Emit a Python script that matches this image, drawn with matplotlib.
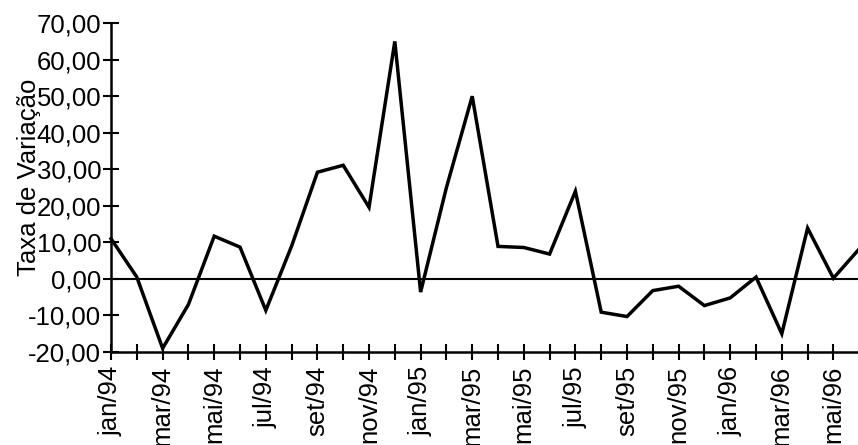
import matplotlib.pyplot as plt
import numpy as np

plt.rcParams['font.family'] = ['Liberation Sans', 'DejaVu Sans']

# meses jan/94 .. jun/96
months = ["jan/94", "fev/94", "mar/94", "abr/94", "mai/94", "jun/94",
          "jul/94", "ago/94", "set/94", "out/94", "nov/94", "dez/94",
          "jan/95", "fev/95", "mar/95", "abr/95", "mai/95", "jun/95",
          "jul/95", "ago/95", "set/95", "out/95", "nov/95", "dez/95",
          "jan/96", "fev/96", "mar/96", "abr/96", "mai/96", "jun/96"]

taxa = [11.0, 0.5, -19.0, -7.0, 11.7, 8.7,
        -8.6, 9.0, 29.2, 31.1, 19.6, 65.0,
        -3.6, 25.0, 50.0, 8.9, 8.6, 6.8,
        24.0, -9.1, -10.3, -3.2, -2.0, -7.3,
        -5.2, 0.5, -15.0, 13.9, 0.2, 8.2]

yticks = [-20, -10, 0, 10, 20, 30, 40, 50, 60, 70]

fig = plt.figure(figsize=(8.58, 4.45), dpi=100)
ax = fig.add_axes([0.1294, 0.209, 0.872, 0.739])

x = np.arange(len(months))
ax.plot(x, taxa, color="black", lw=2.5, clip_on=False, solid_joinstyle="miter")
ax.axhline(0, color="black", lw=1.5)

ax.set_xlim(0, len(months) - 1)
ax.set_ylim(-20, 70)

ax.set_yticks(yticks)
ax.set_yticklabels([("%.2f" % v).replace(".", ",") for v in yticks])
ax.set_xticks(x)
ax.set_xticklabels([m if i % 2 == 0 else "" for i, m in enumerate(months)], rotation=90)

ax.tick_params(axis="both", direction="inout", length=12, width=1.5, labelsize=18.5, colors="black")
ax.tick_params(axis="y", pad=1)
ax.tick_params(axis="x", pad=4)

for s in ["top", "right"]:
    ax.spines[s].set_visible(False)
for s in ["left", "bottom"]:
    ax.spines[s].set_linewidth(1.8)

ax.set_ylabel("Taxa de Variação", fontsize=18.5)
ax.yaxis.set_label_coords(-0.093, 0.53)

plt.savefig("out.png", dpi=100)
plt.close()
